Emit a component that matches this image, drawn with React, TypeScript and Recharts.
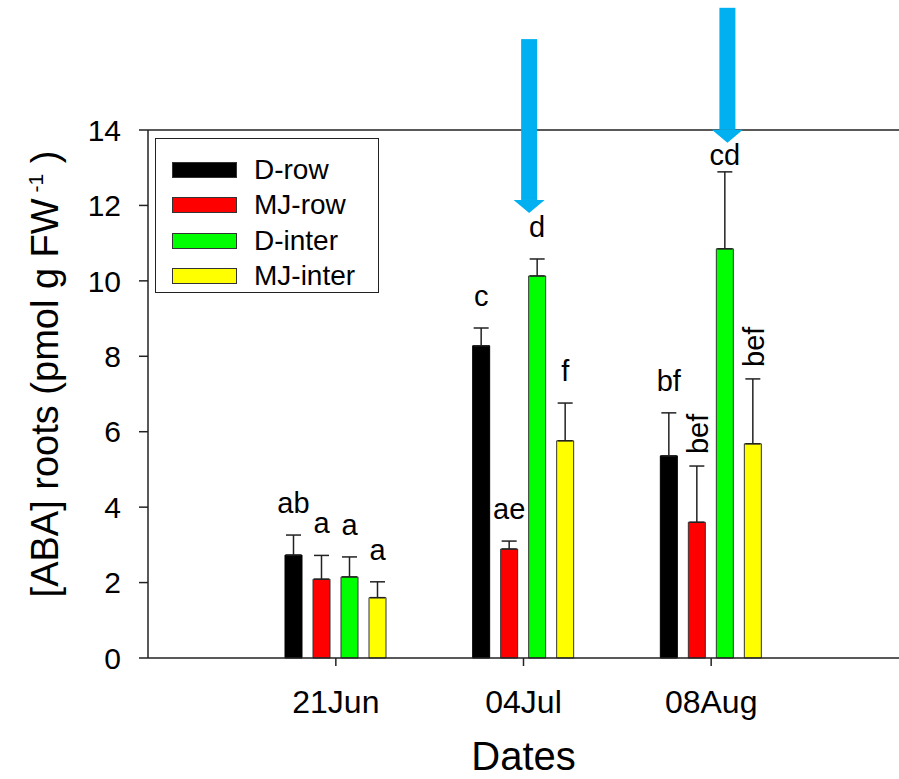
import { ComposedChart, Bar, XAxis, YAxis, ErrorBar, LabelList, ReferenceLine } from 'recharts'

const dates = ['21Jun', '04Jul', '08Aug']

const dRow = [2.73, 8.28, 5.36]
const dRowErr = [0.53, 0.47, 1.14]
const dRowLetters = ['ab', 'c', 'bf']

const mjRow = [2.09, 2.89, 3.6]
const mjRowErr = [0.63, 0.21, 1.49]
const mjRowLetters = ['a', 'ae', 'bef']

const dInter = [2.15, 10.13, 10.85]
const dInterErr = [0.53, 0.45, 2.04]
const dInterLetters = ['a', 'd', 'cd']

const mjInter = [1.6, 5.76, 5.68]
const mjInterErr = [0.42, 1.0, 1.72]
const mjInterLetters = ['a', 'f', 'bef']

const yTicks = [0, 2, 4, 6, 8, 10, 12, 14]

// blue arrows marking the two later dates (x in axis units, 0..4)
const arrowX = [2.03, 3.086]
const arrowTop = [16.41, 17.24]
const arrowTip = [11.8, 13.66]

const FONT = 'Liberation Sans, Arial, sans-serif'
const PLOT_LEFT = 148
const PLOT_W = 751
const X_MAX = 4

const series = [
  { key: 'dRow', name: 'D-row', fill: '#000000', stroke: '#000000', values: dRow, errs: dRowErr, letters: dRowLetters },
  { key: 'mjRow', name: 'MJ-row', fill: '#ff0000', stroke: '#333333', values: mjRow, errs: mjRowErr, letters: mjRowLetters },
  { key: 'dInter', name: 'D-inter', fill: '#00ff00', stroke: '#333333', values: dInter, errs: dInterErr, letters: dInterLetters },
  { key: 'mjInter', name: 'MJ-inter', fill: '#ffff00', stroke: '#333333', values: mjInter, errs: mjInterErr, letters: mjInterLetters },
]

const rows = dates.map((date, i) => {
  const r: Record<string, unknown> = { date, pos: i + 1 }
  series.forEach(s => {
    r[s.key] = s.values[i]
    r[s.key + 'Err'] = [0, s.errs[i]]
    r[s.key + 'Letter'] = s.letters[i]
  })
  return r
})

function letterLabel(values: number[], errs: number[]) {
  return (props: any) => {
    const vb = props.viewBox || props
    const i = props.index
    if (i == null || vb == null) return null
    const x = Number(vb.x), y = Number(vb.y), w = Number(vb.width), h = Number(vb.height)
    const ppu = h / values[i]
    const zero = y + h
    const capY = y - errs[i] * ppu
    const cx = x + w / 2
    const text = String(props.value)
    if (text.length > 2) {
      const px = cx + 11
      const py = capY - 12
      return (
        <text x={px} y={py} transform={`rotate(-90 ${px} ${py})`} fontFamily={FONT} fontSize={29} fill="#000">
          {text}
        </text>
      )
    }
    // keep the letter clear of an arrow head pointing at this bar
    let base = capY - 22
    arrowX.forEach((ax, k) => {
      const apx = PLOT_LEFT + (ax / X_MAX) * PLOT_W
      if (Math.abs(cx - apx) < 16) base = Math.max(base, zero - arrowTip[k] * ppu + 22)
    })
    return (
      <text x={cx} y={base} textAnchor="middle" fontFamily={FONT} fontSize={29} fill="#000">
        {text}
      </text>
    )
  }
}

function Arrow(props: any) {
  const { x1, y1, y2 } = props
  if (![x1, y1, y2].every(Number.isFinite)) return null
  const head = 13
  return (
    <g>
      <rect x={x1 - 8} y={y1} width={16} height={Math.max(0, y2 - y1 - head)} fill="#00b0f0" />
      <polygon points={`${x1 - 15.5},${y2 - head} ${x1 + 15.5},${y2 - head} ${x1},${y2}`} fill="#00b0f0" />
    </g>
  )
}

function YLabel() {
  return (
    <text x={58} y={374} transform="rotate(-90 58 374)" textAnchor="middle" fontFamily={FONT} fontSize={38} fill="#000">
      [ABA] roots (pmol g FW
      <tspan fontSize={21} dy={-15}> -1</tspan>
      <tspan dy={15}> )</tspan>
    </text>
  )
}

function LegendBox() {
  return (
    <div
      style={{
        position: 'absolute', left: 155, top: 138, width: 222, height: 140,
        border: '1.5px solid #222', background: '#fff', paddingTop: 13, boxSizing: 'content-box',
        fontFamily: FONT, fontSize: 28, color: '#000',
      }}
    >
      {series.map(s => (
        <div key={s.key} style={{ display: 'flex', alignItems: 'center', height: 35.5 }}>
          <div style={{ width: 63, height: 14, marginLeft: 16, background: s.fill, border: '1px solid #333' }} />
          <span style={{ marginLeft: 17, lineHeight: '28px' }}>{s.name}</span>
        </div>
      ))}
    </div>
  )
}

export default function App() {
  return (
    <div style={{ position: 'absolute', left: 0, top: 0, width: 899, height: 779, background: '#fff' }}>
      <ComposedChart
        width={PLOT_LEFT + PLOT_W}
        height={779}
        data={rows}
        margin={{ top: 130, right: 0, bottom: 0, left: 0 }}
        barSize={17}
        barGap={11}
      >
        <XAxis
          dataKey="date"
          padding={{ left: 94, right: 94 }}
          height={121}
          tickSize={8}
          tickMargin={24}
          stroke="#222"
          strokeWidth={1.5}
          tick={{ fontSize: 32, fontFamily: FONT, fill: '#000' }}
          label={{
            content: (p: any) => {
              const vb = p.viewBox || {}
              return (
                <text x={vb.x + vb.width / 2} y={770} textAnchor="middle" fontFamily={FONT} fontSize={40} fill="#000">
                  Dates
                </text>
              )
            },
          }}
        />
        <XAxis xAxisId="n" dataKey="pos" type="number" domain={[0, X_MAX]} allowDataOverflow hide />
        <YAxis
          domain={[0, 14]}
          ticks={yTicks}
          width={PLOT_LEFT}
          tickSize={9}
          tickMargin={18}
          stroke="#222"
          strokeWidth={1.5}
          tick={{ fontSize: 30, fontFamily: FONT, fill: '#000' }}
          label={{ content: () => <YLabel /> }}
        />
        <ReferenceLine y={14} stroke="#222" strokeWidth={1.5} />
        {series.map(s => (
          <Bar
            key={s.key}
            dataKey={s.key}
            name={s.name}
            fill={s.fill}
            stroke={s.stroke}
            strokeWidth={1}
            isAnimationActive={false}
          >
            <ErrorBar dataKey={s.key + 'Err'} direction="y" width={7.5} stroke="#222" strokeWidth={1.5} isAnimationActive={false} />
            <LabelList dataKey={s.key + 'Letter'} content={letterLabel(s.values, s.errs)} />
          </Bar>
        ))}
        {arrowX.map((ax, i) => (
          <ReferenceLine
            key={'arrow' + i}
            xAxisId="n"
            segment={[{ x: ax, y: arrowTop[i] }, { x: ax, y: arrowTip[i] }]}
            ifOverflow="visible"
            shape={Arrow}
          />
        ))}
      </ComposedChart>
      <LegendBox />
    </div>
  )
}
